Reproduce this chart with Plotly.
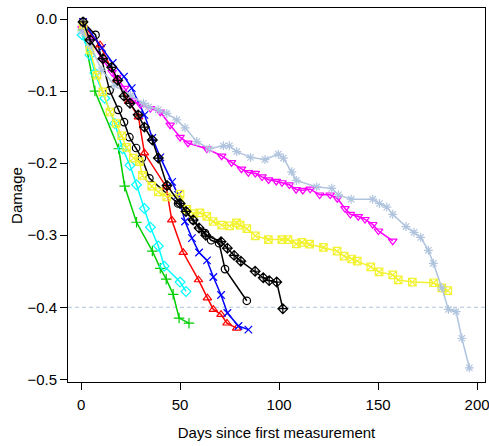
import plotly.graph_objects as go

# Series data (days, damage)
s1_days = [1, 7.3, 14.4, 18.7, 21.7, 24.4, 27.8, 30.7, 34.5, 49, 56.6, 62.6, 65.7, 69.7, 72.7, 83.7]
s1_vals = [-0.004, -0.022, -0.099, -0.126, -0.143, -0.164, -0.179, -0.193, -0.221, -0.256, -0.279, -0.297, -0.307, -0.311, -0.347, -0.391]

s2_days = [1, 9.6, 18, 24, 29, 32, 43, 45.8, 51.6, 59.3, 63.8, 66.8, 70.7, 73.7, 78.6]
s2_vals = [-0.008, -0.036, -0.085, -0.114, -0.136, -0.186, -0.233, -0.279, -0.324, -0.362, -0.387, -0.403, -0.41, -0.422, -0.429]

s3_days = [1, 7, 19, 22, 28, 36, 40, 43, 46.5, 49.5, 54.5]
s3_vals = [-0.015, -0.10, -0.18, -0.232, -0.282, -0.322, -0.346, -0.361, -0.382, -0.415, -0.422]

s4_days = [1, 10.6, 16, 21.7, 25.6, 32, 36, 40, 46, 49, 52.5, 56, 59.6, 63.6, 66.8, 70.7, 73.9, 79.5, 84.5]
s4_vals = [-0.004, -0.040, -0.061, -0.080, -0.096, -0.133, -0.165, -0.192, -0.226, -0.244, -0.281, -0.304, -0.324, -0.335, -0.358, -0.383, -0.408, -0.426, -0.431]

s5_days = [0.5, 4.5, 7, 12, 17, 21, 24.7, 28, 32, 35, 39, 42, 50, 53]
s5_vals = [-0.022, -0.05, -0.075, -0.11, -0.145, -0.18, -0.203, -0.23, -0.263, -0.289, -0.315, -0.343, -0.365, -0.378]

s6_days = [0.5, 4.5, 11, 15.7, 18, 22, 26, 30, 35, 40, 45, 50, 54, 63.5, 71, 76, 81, 84.5, 88, 91.4, 94.7, 98.6, 101.5, 105.2, 108.6, 112, 115.7, 120.5, 125.8, 129.4, 133.3, 136, 140, 143.4, 147.3, 150.2, 157.4]
s6_vals = [-0.013, -0.029, -0.057, -0.074, -0.081, -0.096, -0.113, -0.119, -0.124, -0.129, -0.147, -0.164, -0.172, -0.18, -0.19, -0.199, -0.208, -0.213, -0.214, -0.219, -0.223, -0.225, -0.227, -0.23, -0.2365, -0.2375, -0.236, -0.244, -0.244, -0.249, -0.263, -0.271, -0.274, -0.278, -0.285, -0.294, -0.308]

s7_days = [1, 4.5, 8, 11, 14.6, 17.7, 20.5, 23, 26.4, 29.4, 31, 35.7, 39, 43.3, 50, 53.4, 56.7, 60, 63.5, 66.7, 71, 75, 78.5, 80.3, 83.7, 88, 94.6, 101.4, 104.5, 108.8, 111.5, 115.4, 122.4, 129.3, 132.8, 136.7, 139.5, 146.3, 150.5, 157.4, 160.2, 167.3, 178, 182.2, 185.2]
s7_vals = [-0.008, -0.043, -0.078, -0.101, -0.129, -0.145, -0.162, -0.178, -0.193, -0.198, -0.217, -0.232, -0.24, -0.247, -0.243, -0.264, -0.27, -0.269, -0.274, -0.281, -0.286, -0.287, -0.283, -0.286, -0.291, -0.301, -0.306, -0.306, -0.306, -0.312, -0.31, -0.3125, -0.317, -0.322, -0.329, -0.333, -0.336, -0.344, -0.351, -0.355, -0.362, -0.365, -0.366, -0.373, -0.377]

s8_days = [0.5, 4.5, 10.4, 17, 25, 31.5, 34, 39, 43.3, 48.3, 52.5, 58.4, 64.8, 71.9, 74.9, 78.6, 85.6, 92.9, 99.6, 102.2, 106.4, 108.7, 119, 126.6, 130, 136.4, 147.3, 150.7, 154.4, 157.4, 164.1, 168.2, 171.5, 175.4, 177.9, 182.2, 185.5, 189.4, 192.3, 196.1]
s8_vals = [-0.018, -0.036, -0.071, -0.092, -0.106, -0.117, -0.122, -0.126, -0.131, -0.14, -0.151, -0.17, -0.18, -0.176, -0.176, -0.184, -0.192, -0.195, -0.1875, -0.193, -0.212, -0.224, -0.233, -0.235, -0.244, -0.25, -0.25, -0.256, -0.261, -0.271, -0.288, -0.296, -0.303, -0.321, -0.339, -0.373, -0.403, -0.406, -0.443, -0.484]

s9_days = [1, 4.5, 11, 15.5, 18.5, 21.7, 24.7, 28.8, 32, 36, 39, 43.4, 50, 53, 56.6, 59.6, 63, 70.7, 73.9, 77.3, 80.7, 87.9, 92, 95, 98.8, 101.9]
s9_vals = [-0.004, -0.029, -0.055, -0.067, -0.085, -0.107, -0.117, -0.133, -0.15, -0.168, -0.193, -0.231, -0.256, -0.267, -0.279, -0.29, -0.3, -0.309, -0.318, -0.328, -0.336, -0.35, -0.359, -0.363, -0.365, -0.402]

x_ticks = [0, 50, 100, 150, 200]
y_ticks = [0.0, -0.1, -0.2, -0.3, -0.4, -0.5]
threshold = -0.4

series = [
    (s1_days, s1_vals, "#000000", "circle-open"),
    (s2_days, s2_vals, "#FF0000", "triangle-up-open"),
    (s3_days, s3_vals, "#00CD00", "cross-thin-open"),
    (s4_days, s4_vals, "#0000FF", "x-thin-open"),
    (s5_days, s5_vals, "#00FFFF", "diamond-open"),
    (s6_days, s6_vals, "#FF00FF", "triangle-down-open"),
    (s7_days, s7_vals, "#F2F230", "square-x-open"),
    (s8_days, s8_vals, "#B0C4DE", "asterisk-open"),
    (s9_days, s9_vals, "#000000", "diamond-cross-open"),
]

fig = go.Figure()
xr = [-6.6, 204]
fig.add_trace(go.Scatter(x=xr, y=[threshold, threshold], mode="lines",
                         line=dict(color="#B0C4DE", width=1.2, dash="4px,3px"),
                         hoverinfo="skip"))
for d, v, c, s in series:
    fig.add_trace(go.Scatter(x=d, y=v, mode="lines+markers",
                             line=dict(color=c, width=1.5),
                             marker=dict(symbol=s, size=7.5, color=c,
                                         line=dict(color=c, width=1.2))))

font = dict(family="Liberation Sans, Arial, sans-serif", size=15, color="#000000")
fig.update_layout(
    width=489, height=446,
    margin=dict(l=68, r=4, t=8, b=64),
    plot_bgcolor="white", paper_bgcolor="white",
    showlegend=False,
    font=font,
    xaxis=dict(range=xr, tickvals=x_ticks, ticks="outside", ticklen=7, tickcolor="black",
               ticklabeloverflow="allow", ticklabelstandoff=2, automargin=False,
               showline=True, linecolor="black", linewidth=1, mirror=True,
               showgrid=False, zeroline=False,
               title=dict(text="Days since first measurement", font=font, standoff=15)),
    yaxis=dict(range=[-0.5037, 0.0153], tickvals=y_ticks, tickformat=".1f",
               ticks="outside", ticklen=7, tickcolor="black", ticklabeloverflow="allow",
               automargin=False,
               showline=True, linecolor="black", linewidth=1, mirror=True,
               showgrid=False, zeroline=False),
    annotations=[dict(text="Damage", xref="paper", yref="paper", x=-0.125, y=0.5,
                      xanchor="center", yanchor="middle", textangle=-90,
                      showarrow=False, font=font)],
)
fig.write_html("out.html")
